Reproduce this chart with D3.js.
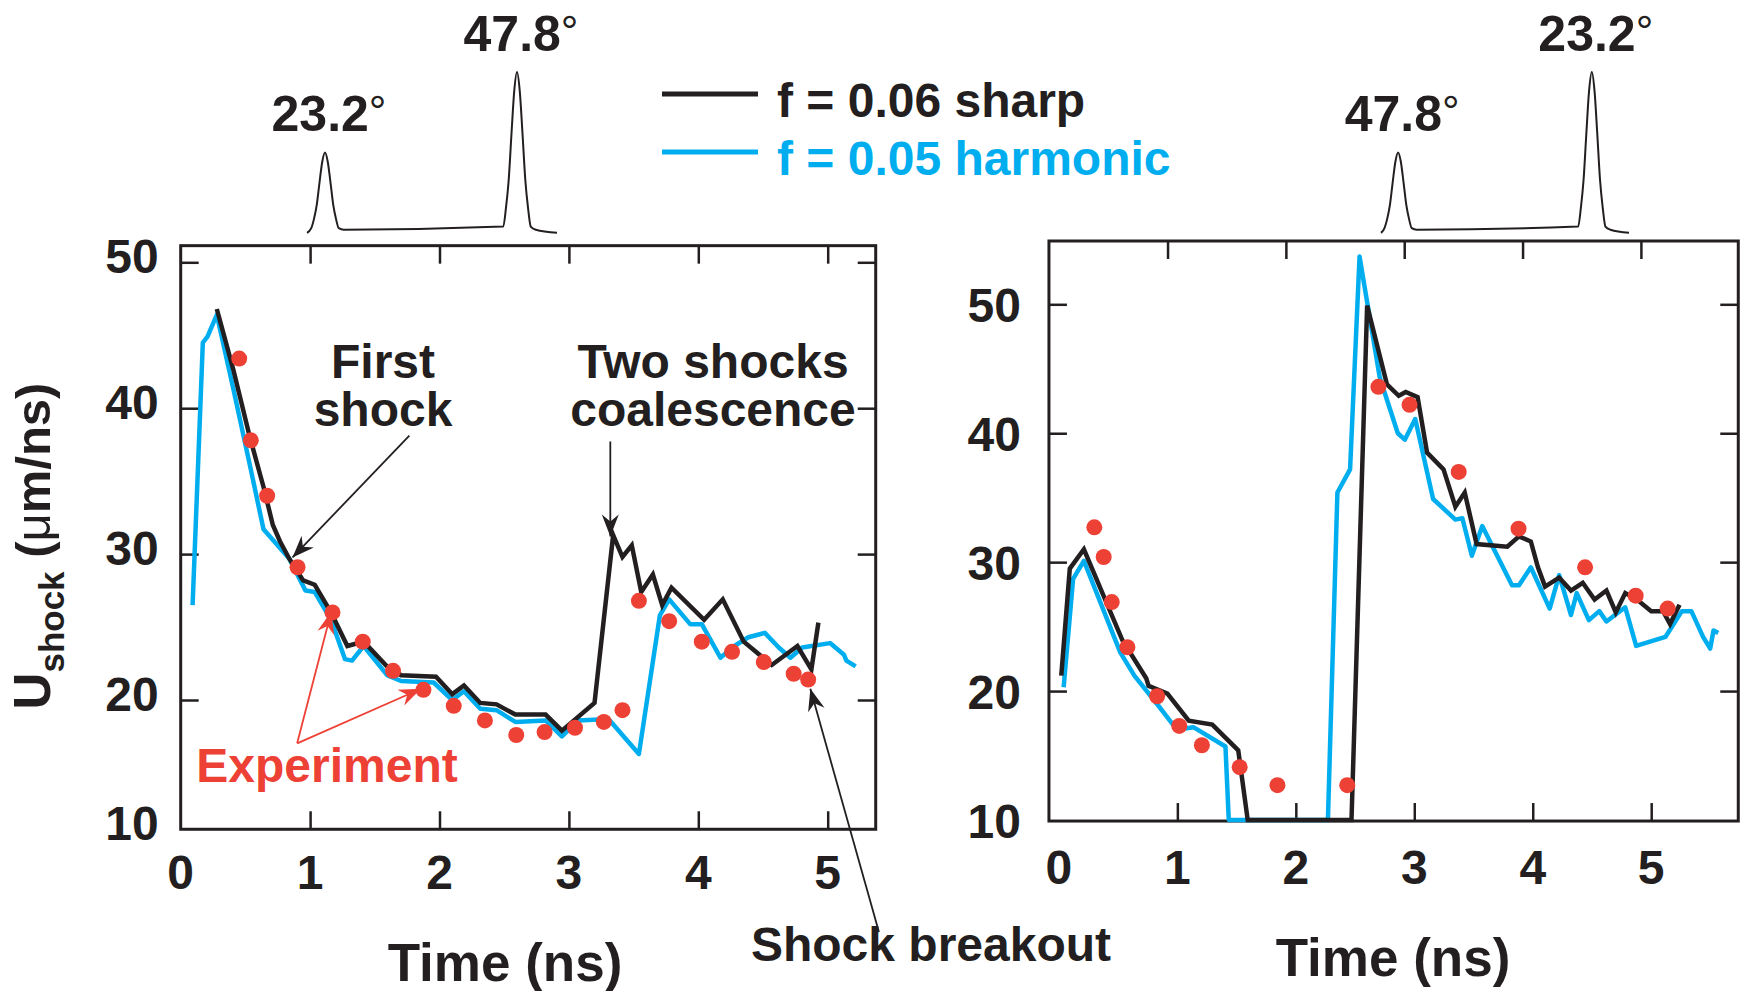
<!DOCTYPE html>
<html>
<head>
<meta charset="utf-8">
<script src="https://cdn.jsdelivr.net/npm/d3@7"></script>
<style>
  body { margin: 0; background: #ffffff; }
  svg { font-family: "Liberation Sans", Arial, Helvetica, sans-serif; font-weight: bold; }
</style>
</head>
<body>
<svg id="chart" width="1740" height="991"></svg>
<script>
////////////////////////////////////////////////////////////////////////////////
//////////////////////////////////////////////////////////////////////// Data
////////////////////////////////////////////////////////////////////////////////

// Left panel, [time (ns), Ushock (um/ns)]
const leftSharp = [
  [0.279, 46.8], [0.405, 42.7], [0.532, 38.1], [0.640, 34.6], [0.712, 32.0],
  [0.766, 30.9], [0.838, 29.7], [0.946, 28.2], [1.036, 27.9], [1.162, 26.0],
  [1.288, 23.7], [1.414, 24.0], [1.595, 22.3], [1.703, 21.7], [1.973, 21.6],
  [2.099, 20.4], [2.189, 21.0], [2.315, 19.8], [2.441, 19.7], [2.586, 19.0],
  [2.820, 19.0], [2.946, 17.9], [3.198, 19.8], [3.342, 31.3], [3.414, 29.8],
  [3.486, 30.6], [3.559, 27.4], [3.649, 28.6], [3.721, 26.5], [3.793, 27.7],
  [4.045, 25.5], [4.189, 26.9], [4.351, 24.0], [4.568, 22.4], [4.766, 23.7],
  [4.874, 22.1], [4.928, 25.3]
];
const leftHarmonic = [
  [0.092, 26.5], [0.171, 44.5], [0.207, 44.9], [0.279, 46.4], [0.405, 41.4],
  [0.532, 36.2], [0.640, 31.7], [0.730, 30.8], [0.838, 29.7], [0.964, 27.5],
  [1.036, 27.4], [1.162, 25.5], [1.270, 22.8], [1.324, 22.7], [1.414, 23.7],
  [1.595, 21.7], [1.703, 21.3], [1.955, 21.2], [2.099, 20.0], [2.189, 20.6],
  [2.315, 19.4], [2.441, 19.3], [2.586, 18.5], [2.820, 18.6], [2.946, 17.5],
  [3.072, 18.6], [3.306, 18.7], [3.541, 16.3], [3.703, 25.8], [3.775, 26.9],
  [3.937, 25.2], [4.027, 25.2], [4.171, 22.9], [4.279, 23.7], [4.387, 24.3],
  [4.514, 24.6], [4.622, 23.6], [4.712, 22.9], [4.802, 23.6], [5.018, 23.9],
  [5.126, 23.1], [5.144, 22.7], [5.216, 22.3]
];
const leftExperiment = [
  [0.452, 43.4], [0.542, 37.8], [0.668, 34.0], [0.903, 29.1], [1.173, 26.0],
  [1.407, 24.0], [1.641, 22.0], [1.876, 20.7], [2.110, 19.6], [2.351, 18.6],
  [2.593, 17.6], [2.812, 17.8], [3.047, 18.1], [3.270, 18.5], [3.414, 19.3],
  [3.541, 26.8], [3.775, 25.4], [4.027, 24.0], [4.261, 23.3], [4.506, 22.6],
  [4.737, 21.8], [4.849, 21.4]
];

// Right panel, [time (ns), Ushock (um/ns)]
const rightSharp = [
  [0.020, 21.2], [0.092, 29.5], [0.211, 31.0], [0.538, 23.9], [0.737, 21.0],
  [0.757, 20.4], [0.916, 19.8], [1.096, 17.7], [1.295, 17.4], [1.514, 15.4],
  [1.594, 10.0], [2.470, 10.0], [2.602, 49.9], [2.769, 43.8], [2.869, 42.9],
  [2.928, 43.2], [3.028, 42.8], [3.108, 38.5], [3.247, 37.2], [3.347, 34.3],
  [3.426, 35.4], [3.526, 31.4], [3.785, 31.2], [3.884, 32.0], [3.984, 31.6],
  [4.044, 29.6], [4.104, 28.1], [4.223, 28.8], [4.323, 27.8], [4.422, 28.4],
  [4.522, 27.1], [4.622, 27.8], [4.701, 26.1], [4.781, 27.6], [4.880, 27.1],
  [5.000, 26.2], [5.100, 26.2], [5.159, 25.2], [5.239, 26.7]
];
const rightHarmonic = [
  [0.040, 20.3], [0.120, 28.7], [0.211, 30.1], [0.518, 23.0], [0.637, 21.2],
  [0.837, 18.9], [0.996, 17.0], [1.135, 17.2], [1.406, 15.7], [1.434, 10.0],
  [2.271, 10.0], [2.351, 35.4], [2.458, 37.2], [2.538, 53.7], [2.709, 44.3],
  [2.861, 40.0], [2.920, 39.5], [3.008, 41.1], [3.159, 34.9], [3.347, 33.3],
  [3.406, 33.4], [3.486, 30.5], [3.574, 32.8], [3.825, 28.2], [3.884, 28.2],
  [3.984, 29.6], [4.143, 26.4], [4.223, 29.0], [4.323, 25.9], [4.371, 27.6],
  [4.474, 25.5], [4.562, 26.2], [4.622, 25.4], [4.781, 26.5], [4.873, 23.5],
  [5.120, 24.2], [5.259, 26.2], [5.339, 26.2], [5.438, 24.2], [5.498, 23.3],
  [5.526, 24.7], [5.566, 24.5]
];
const rightExperiment = [
  [0.299, 32.7], [0.378, 30.4], [0.446, 26.9], [0.578, 23.4], [0.829, 19.6],
  [1.016, 17.3], [1.207, 15.8], [1.526, 14.1], [1.845, 12.7], [2.434, 12.7],
  [2.697, 43.6], [2.960, 42.2], [3.375, 37.0], [3.880, 32.6], [4.442, 29.6],
  [4.869, 27.4], [5.139, 26.4]
];

// Ticks
const xTicks = [0, 1, 2, 3, 4, 5];
const yTicks = [10, 20, 30, 40, 50];

// Legend
const seriesNames = ["f = 0.06 sharp", "f = 0.05 harmonic"];

// Laser pulse sketches (position along the sketch, relative amplitude)
const leftPulses = [
  {label: "23.2", pos: 0.72, amp: 0.49},
  {label: "47.8", pos: 8.40, amp: 1.00}
];
const rightPulses = [
  {label: "47.8", pos: 0.69, amp: 0.49},
  {label: "23.2", pos: 8.50, amp: 1.00}
];
// one pulse shape: [offset, level]
const pulseProfile = [
  [-0.55, 0.02], [-0.44, 0.14], [-0.33, 0.32], [-0.22, 0.61], [-0.11, 0.88],
  [0, 1], [0.11, 0.88], [0.22, 0.61], [0.33, 0.32], [0.44, 0.14], [0.55, 0.02],
  [0.75, 0]
];

////////////////////////////////////////////////////////////////////////////////
////////////////////////////////////////////////////////////////////// Styles
////////////////////////////////////////////////////////////////////////////////
const black = "#231f20";
const blue = "#00aeef";
const red = "#ee4136";

const svg = d3.select("#chart");

// Arrow heads
const defs = svg.append("defs");
[["arrow-black", black], ["arrow-red", red]].forEach(function(m) {
  defs.append("marker")
        .attr("id", m[0])
        .attr("viewBox", "-23 -10 24 20")
        .attr("refX", 0)
        .attr("refY", 0)
        .attr("markerWidth", 24)
        .attr("markerHeight", 20)
        .attr("markerUnits", "userSpaceOnUse")
        .attr("orient", "auto")
      .append("path")
        .attr("d", "M0,0 L-22,-8.5 L-15,0 L-22,8.5 Z")
        .attr("fill", m[1]);
});

////////////////////////////////////////////////////////////////////////////////
////////////////////////////////////////////////////////////////////// Panels
////////////////////////////////////////////////////////////////////////////////

const leftPanel = {
  x: d3.scaleLinear().domain([0, 5]).range([180.7, 827.7]),
  xTop: d3.scaleLinear().domain([0, 5]).range([180.7, 827.7]),
  y: d3.scaleLinear().domain([20, 50]).range([700, 262.3]),
  xMin: 0, xMax: 5.371, yMin: 11.14, yMax: 51.14,
  yLabelGap: 22, yLabelDy: 11, xLabelDy: 60, titleX: 505, titleY: 981,
  sharp: leftSharp, harmonic: leftHarmonic, experiment: leftExperiment
};
const rightPanel = {
  x: d3.scaleLinear().domain([0, 5]).range([1058.9, 1651.2]),
  xTop: d3.scaleLinear().domain([0, 5]).range([1049.2, 1640.9]),
  y: d3.scaleLinear().domain([10, 50]).range([820, 304.3]),
  xMin: -0.084, xMax: 5.735, yMin: 9.92, yMax: 54.91,
  yLabelGap: 28, yLabelDy: 18, xLabelDy: 63, titleX: 1393, titleY: 976,
  sharp: rightSharp, harmonic: rightHarmonic, experiment: rightExperiment
};

function drawPanel(p) {
  const g = svg.append("g");
  const left = p.x(p.xMin), right = p.x(p.xMax);
  const top = p.y(p.yMax), bottom = p.y(p.yMin);

  // Inner ticks on all four sides
  g.append("g")
     .attr("transform", `translate(0, ${bottom})`)
     .call(d3.axisBottom(p.x).tickValues(xTicks.slice(1)).tickSizeInner(-18).tickSizeOuter(0).tickFormat(""));
  g.append("g")
     .attr("transform", `translate(0, ${top})`)
     .call(d3.axisTop(p.xTop).tickValues(xTicks.slice(1)).tickSizeInner(-18).tickSizeOuter(0).tickFormat(""));
  g.append("g")
     .attr("transform", `translate(${left}, 0)`)
     .call(d3.axisLeft(p.y).tickValues(yTicks.slice(1)).tickSizeInner(-18).tickSizeOuter(0).tickFormat(""));
  g.append("g")
     .attr("transform", `translate(${right}, 0)`)
     .call(d3.axisRight(p.y).tickValues(yTicks.slice(1)).tickSizeInner(-18).tickSizeOuter(0).tickFormat(""));
  g.selectAll(".domain").remove();
  g.selectAll(".tick line")
     .attr("stroke", black)
     .attr("stroke-width", 2.5);

  // Frame
  g.append("rect")
     .attr("x", left)
     .attr("y", top)
     .attr("width", right - left)
     .attr("height", bottom - top)
     .attr("fill", "none")
     .attr("stroke", black)
     .attr("stroke-width", 3);

  // Tick labels
  g.selectAll(".ylab")
    .data(yTicks)
    .join("text")
      .attr("class", "ylab")
      .attr("x", left - p.yLabelGap)
      .attr("y", d => Math.min(p.y(d), bottom) + p.yLabelDy)
      .attr("text-anchor", "end")
      .attr("font-size", 48)
      .attr("fill", black)
      .text(d => d);
  g.selectAll(".xlab")
    .data(xTicks)
    .join("text")
      .attr("class", "xlab")
      .attr("x", d => p.x(d))
      .attr("y", bottom + p.xLabelDy)
      .attr("text-anchor", "middle")
      .attr("font-size", 48)
      .attr("fill", black)
      .text(d => d);

  // Draw lines
  const line = d3.line()
                 .x(d => p.x(d[0]))
                 .y(d => p.y(d[1]));
  g.append("path")
     .attr("d", line(p.harmonic))
     .attr("fill", "none")
     .attr("stroke", blue)
     .attr("stroke-width", 4.5)
     .attr("stroke-linejoin", "round");
  g.append("path")
     .attr("d", line(p.sharp))
     .attr("fill", "none")
     .attr("stroke", black)
     .attr("stroke-width", 4.5)
     .attr("stroke-linejoin", "miter");

  // Experiment dots
  g.selectAll(".dot")
    .data(p.experiment)
    .join("circle")
      .attr("class", "dot")
      .attr("cx", d => p.x(d[0]))
      .attr("cy", d => p.y(d[1]))
      .attr("r", 8)
      .attr("fill", red);

  // X-axis title
  g.append("text")
     .attr("x", p.titleX)
     .attr("y", p.titleY)
     .attr("text-anchor", "middle")
     .attr("font-size", 53)
     .attr("fill", black)
     .text("Time (ns)");
  return g;
}

drawPanel(leftPanel);
drawPanel(rightPanel);

////////////////////////////////////////////////////////////////////////////////
////////////////////////////////////////////////////////////// Pulse sketches
////////////////////////////////////////////////////////////////////////////////
function drawPulses(pulses, x0, x1) {
  const px = d3.scaleLinear().domain([0, 10]).range([x0, x1]);
  const py = d3.scaleLinear().domain([0, 1]).range([229.7, 72]);
  const pts = [[0, -0.02]];
  pulses.forEach(function(q) {
    pulseProfile.forEach(function(s) {
      pts.push([q.pos + s[0], q.amp * s[1]]);
    });
  });
  pts.push([10, -0.02]);
  svg.append("path")
       .attr("d", d3.line().x(d => px(d[0])).y(d => py(d[1])).curve(d3.curveMonotoneX)(pts))
       .attr("fill", "none")
       .attr("stroke", black)
       .attr("stroke-width", 2);
  const labels = svg.selectAll(null)
    .data(pulses)
    .join("text")
      .attr("x", d => px(d.pos) + 4)
      .attr("y", d => py(d.amp) - 21)
      .attr("text-anchor", "middle")
      .attr("font-size", 50)
      .attr("fill", black);
  labels.append("tspan").text(d => d.label);
  labels.append("tspan")
          .attr("font-weight", "normal")
          .attr("font-size", 44)
          .attr("dy", -4)
          .text("°");
}
drawPulses(leftPulses, 307, 557);
drawPulses(rightPulses, 1381, 1629);

// Legend
const legend = svg.append("g");
legend.selectAll("line")
  .data(seriesNames)
  .join("line")
    .attr("x1", 662)
    .attr("x2", 758)
    .attr("y1", (d, i) => 94 + i * 58)
    .attr("y2", (d, i) => 94 + i * 58)
    .attr("stroke", (d, i) => i ? blue : black)
    .attr("stroke-width", 5);
legend.selectAll("text")
  .data(seriesNames)
  .join("text")
    .attr("x", 777)
    .attr("y", (d, i) => 116.5 + i * 58)
    .attr("font-size", 48)
    .attr("fill", (d, i) => i ? blue : black)
    .text(d => d);

////////////////////////////////////////////////////////////////////////////////
///////////////////////////////////////////////////////////////// Annotations
////////////////////////////////////////////////////////////////////////////////
const lx = leftPanel.x, ly = leftPanel.y;

function arrow(from, to, color, marker) {
  svg.append("line")
       .attr("x1", lx(from[0])).attr("y1", ly(from[1]))
       .attr("x2", lx(to[0])).attr("y2", ly(to[1]))
       .attr("stroke", color)
       .attr("stroke-width", 1.8)
       .attr("marker-end", `url(#${marker})`);
}
arrow([1.767, 38.12], [0.864, 29.77], black, "arrow-black");
arrow([3.320, 37.72], [3.320, 31.21], black, "arrow-black");
arrow([5.396, 4.10], [4.866, 20.77], black, "arrow-black");
arrow([0.900, 17.03], [1.164, 26.06], red, "arrow-red");
arrow([0.900, 17.03], [1.857, 20.77], red, "arrow-red");

function note(x, y, lines, color) {
  svg.append("text")
       .attr("x", x)
       .attr("y", y)
       .attr("text-anchor", "middle")
       .attr("font-size", 48)
       .attr("fill", color)
     .selectAll("tspan")
     .data(lines)
     .join("tspan")
       .attr("x", x)
       .attr("dy", (d, i) => i ? 48 : 0)
       .text(d => d);
}
note(383, 378, ["First", "shock"], black);
note(713, 378, ["Two shocks", "coalescence"], black);
note(327, 782, ["Experiment"], red);
note(931, 961, ["Shock breakout"], black);

// Y-axis title
const yTitle = svg.append("text")
                    .attr("transform", "translate(50, 546) rotate(-90)")
                    .attr("text-anchor", "middle")
                    .attr("font-size", 49)
                    .attr("fill", black);
yTitle.append("tspan").attr("font-size", 51).text("U");
yTitle.append("tspan").attr("font-size", 35).attr("dy", 14).text("shock");
yTitle.append("tspan").attr("dy", -14).text(" (");
yTitle.append("tspan").attr("font-weight", "normal").text("μ");
yTitle.append("tspan").text("m/ns)");
</script>
</body>
</html>
